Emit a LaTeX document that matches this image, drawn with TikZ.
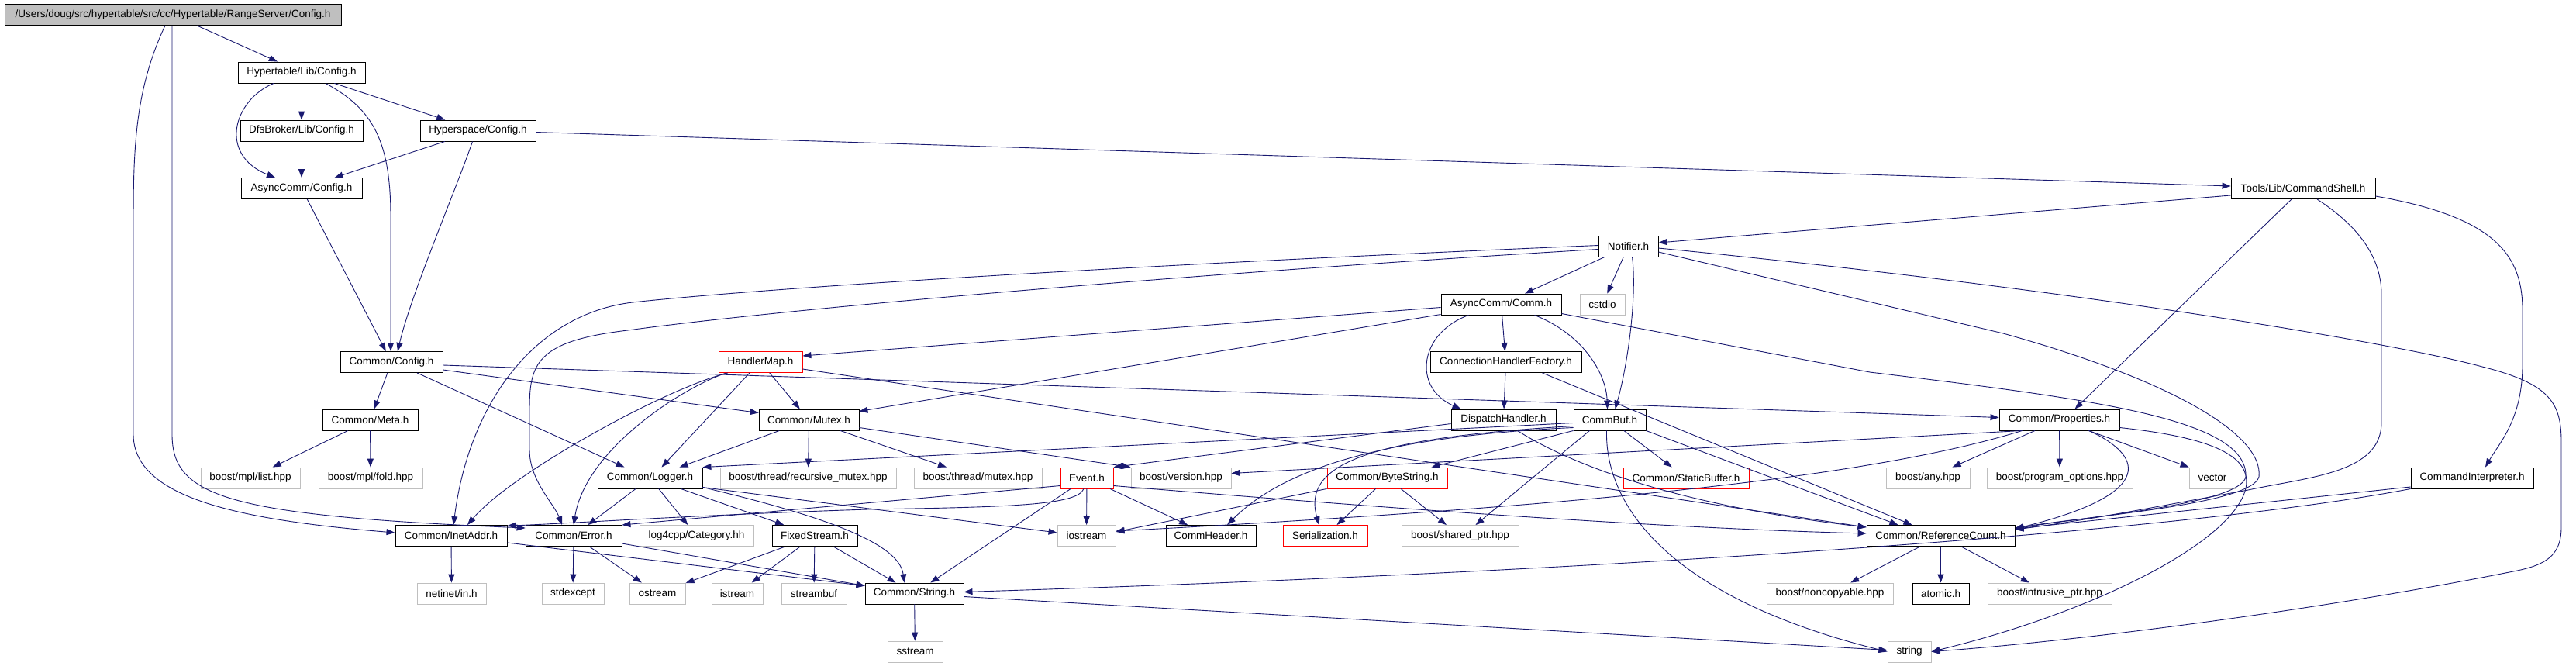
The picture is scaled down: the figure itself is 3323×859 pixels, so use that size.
\documentclass[tikz,border=0pt]{standalone}
\usepackage{fontspec}
\setmainfont{Liberation Sans}
\usetikzlibrary{arrows.meta}
\definecolor{edgeblue}{HTML}{191970}
\definecolor{extgray}{HTML}{BFBFBF}
\definecolor{rootgray}{HTML}{BFBFBF}
\newcommand\nodefont{\fontsize{13.5pt}{16pt}\selectfont}
\tikzset{
  nd/.style={draw=black, line width=0.9pt, rectangle, inner sep=0pt, minimum height=27pt, font=\nodefont, text=black},
  ext/.style={nd, draw=extgray},
  rd/.style={nd, draw=red},
  dep/.style={draw=edgeblue, line width=0.9pt, -{Triangle[length=11pt,width=8pt]}},
}
\begin{document}
\begin{tikzpicture}[x=1pt,y=-1pt]
\useasboundingbox[fill=white] (0,0) rectangle (3323,859);
% rank 0-5
\node[nd,fill=rootgray,minimum width=434] (root) at (223,19) {/Users/doug/src/hypertable/src/cc/Hypertable/RangeServer/Config.h};
\node[nd,minimum width=164] (hlc) at (389,93.5) {Hypertable/Lib/Config.h};
\node[nd,minimum width=158] (dfs) at (389,168.5) {DfsBroker/Lib/Config.h};
\node[nd,minimum width=149] (hyp) at (616.5,168.5) {Hyperspace/Config.h};
\node[nd,minimum width=156] (acc) at (389,243) {AsyncComm/Config.h};
\node[nd,minimum width=186] (cs) at (2971,243) {Tools/Lib/CommandShell.h};
\node[nd,minimum width=77] (notif) at (2100.5,317.5) {Notifier.h};
\node[nd,minimum width=155] (comm) at (1936.5,392.5) {AsyncComm/Comm.h};
\node[ext,minimum width=58] (cstdio) at (2067,392.5) {cstdio};
% rank 6
\node[nd,minimum width=132] (cc) at (505,467) {Common/Config.h};
\node[rd,minimum width=108] (hm) at (981,467) {HandlerMap.h};
\node[nd,minimum width=195] (chf) at (1942.5,467) {ConnectionHandlerFactory.h};
% rank 7
\node[nd,minimum width=123] (meta) at (477.5,541.5) {Common/Meta.h};
\node[nd,minimum width=129] (mutex) at (1043.5,541.5) {Common/Mutex.h};
\node[nd,minimum width=135] (dh) at (1939.5,541.5) {DispatchHandler.h};
\node[nd,minimum width=93] (cb) at (2076.5,541.5) {CommBuf.h};
\node[nd,minimum width=155] (prop) at (2656.5,541.5) {Common/Properties.h};
% rank 8
\node[ext,minimum width=128] (list) at (323,616.5) {boost/mpl/list.hpp};
\node[ext,minimum width=134] (fold) at (478,616.5) {boost/mpl/fold.hpp};
\node[nd,minimum width=135] (logger) at (838.5,616.5) {Common/Logger.h};
\node[ext,minimum width=227] (rmutex) at (1042.5,616.5) {boost/thread/recursive\_mutex.hpp};
\node[ext,minimum width=165] (tmutex) at (1261.5,616.5) {boost/thread/mutex.hpp};
\node[rd,minimum width=68] (event) at (1402,616.5) {Event.h};
\node[ext,minimum width=129] (version) at (1523.5,616.5) {boost/version.hpp};
\node[rd,minimum width=155] (bs) at (1789.5,616.5) {Common/ByteString.h};
\node[rd,minimum width=162] (sb) at (2175,616.5) {Common/StaticBuffer.h};
\node[ext,minimum width=108] (any) at (2487,616.5) {boost/any.hpp};
\node[ext,minimum width=188] (po) at (2657,616.5) {boost/program\_options.hpp};
\node[ext,minimum width=60] (vector) at (2854,616.5) {vector};
\node[nd,minimum width=158] (ci) at (3189,616.5) {CommandInterpreter.h};
% rank 9
\node[nd,minimum width=144] (inet) at (582,691) {Common/InetAddr.h};
\node[nd,minimum width=124] (error) at (740,691) {Common/Error.h};
\node[ext,minimum width=147] (cat) at (898.5,691) {log4cpp/Category.hh};
\node[nd,minimum width=110] (fs) at (1051,691) {FixedStream.h};
\node[ext,minimum width=75] (iostream) at (1401.5,691) {iostream};
\node[nd,minimum width=116] (ch) at (1562,691) {CommHeader.h};
\node[rd,minimum width=109] (ser) at (1709.5,691) {Serialization.h};
\node[ext,minimum width=151] (sptr) at (1883.5,691) {boost/shared\_ptr.hpp};
\node[nd,minimum width=191] (rc) at (2503.5,691) {Common/ReferenceCount.h};
% rank 10
\node[ext,minimum width=89] (netinet) at (582.5,765.5) {netinet/in.h};
\node[ext,minimum width=80] (stdexcept) at (739,765.5) {stdexcept};
\node[ext,minimum width=72] (ostream) at (848,765.5) {ostream};
\node[ext,minimum width=66] (istream) at (951,765.5) {istream};
\node[ext,minimum width=84] (streambuf) at (1050,765.5) {streambuf};
\node[nd,minimum width=127] (str) at (1179.5,765.5) {Common/String.h};
\node[ext,minimum width=163] (nonc) at (2360.5,765.5) {boost/noncopyable.hpp};
\node[nd,minimum width=73] (atomic) at (2503.5,765.5) {atomic.h};
\node[ext,minimum width=160] (intr) at (2644,765.5) {boost/intrusive\_ptr.hpp};
% rank 11
\node[ext,minimum width=71] (sstream) at (1180.5,840.5) {sstream};
\node[ext,minimum width=56] (string) at (2463,840.5) {string};

% ---- edges ----
% root
\draw[dep] (root) -- (hlc);
\draw[dep] ([xshift=-10]root.south) .. controls (172,120) and (172,200) .. (172,300) -- (172,560) .. controls (172,640) and (300,670) .. ([yshift=4]inet.west);
\draw[dep] ([xshift=-1]root.south) -- (222,560) .. controls (222,640) and (290,665) .. ([yshift=10]error.west);
% Hypertable/Lib/Config.h
\draw[dep] (hlc) -- (dfs);
\draw[dep] ([xshift=-36]hlc.south) .. controls (300,130) and (282,200) .. ([xshift=-34]acc.north);
\draw[dep] ([xshift=31]hlc.south) .. controls (480,140) and (504,180) .. (504,280) -- ([xshift=-1]cc.north);
\draw[dep] (hlc) -- (hyp);
\draw[dep] (dfs) -- (acc);
% Hyperspace
\draw[dep] (hyp) -- (acc);
\draw[dep] ([xshift=-7]hyp.south) .. controls (590,240) and (530,380) .. ([xshift=8]cc.north);
\draw[dep] ([yshift=-2]hyp.east) -- ([yshift=3]cs.west);
\draw[dep] (acc) -- (cc);
% Common/Config.h
\draw[dep] (cc) -- (meta);
\draw[dep] ([yshift=-4]cc.east) -- ([yshift=3]prop.west);
\draw[dep] ([yshift=-10]cc.east) -- ([yshift=9]mutex.west);
\draw[dep] ([xshift=33]cc.south) -- ([xshift=-33]logger.north);
\draw[dep] (meta) -- (list);
\draw[dep] (meta) -- (fold);
% HandlerMap
\draw[dep] (hm) -- (mutex);
\draw[dep] ([xshift=-42]hm.south) .. controls (860,500) and (660,610) .. ([xshift=21]inet.north);
\draw[dep] ([xshift=-44]hm.south) .. controls (880,500) and (755,580) .. (error.north);
\draw[dep] ([xshift=-14]hm.south) -- ([xshift=15]logger.north);
\draw[dep] ([yshift=-9]hm.east) -- ([yshift=11]rc.west);
% Comm.h
\draw[dep] ([yshift=-4]comm.west) -- ([yshift=8]hm.east);
\draw[dep] ([yshift=-13]comm.west) -- ([yshift=11]mutex.east);
\draw[dep] (comm) -- (chf);
\draw[dep] ([xshift=-42]comm.south) .. controls (1830,430) and (1822,500) .. ([xshift=-55]dh.north);
\draw[dep] ([xshift=43]comm.south) .. controls (2040,430) and (2072,480) .. ([xshift=-3]cb.north);
\draw[dep] ([yshift=-12]comm.east) -- (2412,480) .. controls (2700,515) and (2900,540) .. (2897,615) .. controls (2890,650) and (2700,665) .. ([yshift=9]rc.east);
% ConnectionHandlerFactory / DispatchHandler
\draw[dep] (chf) -- (dh);
\draw[dep] ([xshift=47]chf.south) -- ([xshift=-37]rc.north);
\draw[dep] ([yshift=-5]dh.west) -- (event.north east);
\draw[dep] ([xshift=18]dh.south) .. controls (2020,595) and (2150,650) .. ([yshift=11]rc.west);
% CommBuf
\draw[dep] (cb.south west) -- ([xshift=57]bs.north);
\draw[dep] ([xshift=-26]cb.south) -- ([xshift=20]sptr.north);
\draw[dep] ([yshift=-8]cb.west) .. controls (1760,565) and (1680,600) .. ([xshift=-8]ser.north);
\draw[dep] ([yshift=-10]cb.west) .. controls (1800,562) and (1660,600) .. ([xshift=21]ch.north);
\draw[dep] ([yshift=-4]cb.west) -- (logger.north east);
\draw[dep] (cb) -- (sb);
\draw[dep] (cb.south east) -- ([xshift=-55]rc.north);
\draw[dep] ([xshift=-4]cb.south) .. controls (2070,650) and (2150,770) .. (string.west);
% Notifier
\draw[dep] (notif) -- (comm);
\draw[dep] (notif) -- (cstdio);
\draw[dep] ([xshift=5]notif.south) .. controls (2112,380) and (2100,470) .. ([xshift=7]cb.north);
\draw[dep] ([yshift=1]notif.west) .. controls (1500,340) and (1000,370) .. (816,390) .. controls (690,405) and (605,520) .. ([xshift=3]inet.north);
\draw[dep] ([yshift=-4]notif.west) .. controls (1500,355) and (1000,400) .. (810,426) .. controls (690,440) and (683,470) .. (683,530) -- (683,580) .. controls (683,620) and (715,650) .. ([xshift=-15]error.north);
\draw[dep] ([yshift=-2.5]notif.east) .. controls (2700,375) and (3100,445) .. (3202,473) .. controls (3290,495) and (3304,520) .. (3304,570) -- (3304,680) .. controls (3304,720) and (3280,730) .. (3237,738) .. controls (3000,785) and (2700,825) .. (string.east);
\draw[dep] ([yshift=-7.5]notif.east) -- (2584,430) .. controls (2800,490) and (2920,560) .. (2914,615) .. controls (2905,650) and (2700,665) .. ([yshift=10]rc.east);
% CommandShell
\draw[dep] ([yshift=-9]cs.west) -- ([yshift=4.5]notif.east);
\draw[dep] ([xshift=-15]cs.south) -- ([xshift=20]prop.north);
\draw[dep] ([xshift=18]cs.south) .. controls (3040,290) and (3072,330) .. (3072,380) -- (3072,545) .. controls (3072,610) and (2980,615) .. (2900,632) .. controls (2800,650) and (2700,670) .. ([yshift=8]rc.east);
\draw[dep] ([yshift=-10]cs.east) .. controls (3220,280) and (3254,330) .. (3254,400) -- (3254,470) .. controls (3254,540) and (3225,570) .. ([xshift=17]ci.north);
% CommandInterpreter
\draw[dep] ([yshift=-11.5]ci.west) -- ([yshift=9]rc.east);
\draw[dep] ([yshift=-14]ci.west) .. controls (2800,690) and (2000,740) .. ([yshift=2]str.east);
% Properties
\draw[dep] (prop) -- (any);
\draw[dep] (prop) -- (po);
\draw[dep] ([xshift=38]prop.south) -- (vector.north west);
\draw[dep] ([xshift=38]prop.south) .. controls (2760,585) and (2790,635) .. ([yshift=9]rc.east);
\draw[dep] ([yshift=-10]prop.east) .. controls (2860,565) and (2905,590) .. (2897,630) .. controls (2880,700) and (2700,790) .. (string.east);
\draw[dep] ([xshift=30]prop.south west) -- ([yshift=6]version.east);
\draw[dep] ([xshift=30]prop.south west) .. controls (2400,620) and (2000,655) .. ([yshift=6]iostream.east);
% Logger
\draw[dep] (logger) -- (error);
\draw[dep] (logger) -- (cat);
\draw[dep] (logger) -- (fs);
\draw[dep] ([yshift=-12]logger.east) .. controls (1060,665) and (1160,700) .. ([xshift=-13]str.north);
\draw[dep] ([yshift=-12]logger.east) -- ([yshift=4]iostream.west);
% Mutex
\draw[dep] (mutex) -- (logger);
\draw[dep] (mutex) -- (rmutex);
\draw[dep] (mutex) -- (tmutex);
\draw[dep] ([yshift=-10]mutex.east) -- (version.north west);
% Event
\draw[dep] (event) -- (iostream);
\draw[dep] (event) -- (ch);
\draw[dep] (event) -- (str);
\draw[dep] ([yshift=-10]event.west) -- (error.north east);
\draw[dep] ([xshift=-4]event.south) .. controls (1390,652) and (1300,654) .. (1120,657) .. controls (900,664) and (720,676) .. ([yshift=-1]inet.north east);
\draw[dep] ([yshift=-10]event.east) .. controls (1700,648) and (2100,680) .. ([yshift=3]rc.west);
% ByteString
\draw[dep] (bs) -- (ser);
\draw[dep] (bs) -- (sptr);
\draw[dep] (bs.south west) -- ([yshift=5]iostream.east);
% InetAddr, Error, FixedStream, String
\draw[dep] (inet) -- (netinet);
\draw[dep] ([yshift=-9]inet.east) -- ([yshift=10]str.west);
\draw[dep] (error) -- (stdexcept);
\draw[dep] (error) -- (ostream);
\draw[dep] ([yshift=-10]error.east) -- ([yshift=10]str.west);
\draw[dep] (fs) -- (ostream);
\draw[dep] (fs) -- (istream);
\draw[dep] (fs) -- (streambuf);
\draw[dep] (fs) -- (str);
\draw[dep] (str) -- (sstream);
\draw[dep] ([yshift=-4]str.east) -- ([yshift=2]string.west);
% ReferenceCount
\draw[dep] (rc) -- (nonc);
\draw[dep] (rc) -- (atomic);
\draw[dep] (rc) -- (intr);
\end{tikzpicture}
\end{document}
